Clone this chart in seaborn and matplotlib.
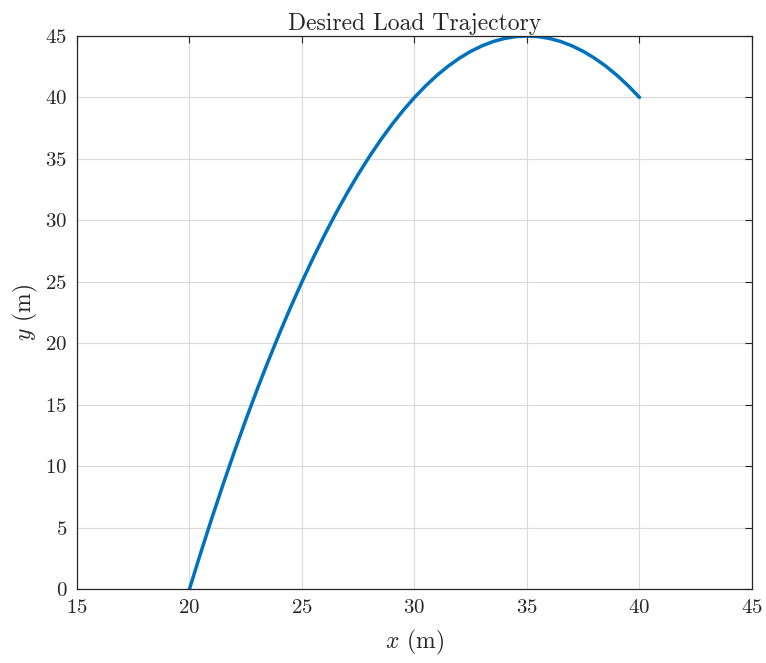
import matplotlib
matplotlib.use("Agg")
import matplotlib.pyplot as plt
import seaborn as sns
import pandas as pd

# values
x_m = [20, 20.5, 21, 21.5, 22, 22.5, 23, 23.5, 24, 24.5, 25, 25.5, 26, 26.5, 27, 27.5,
       28, 28.5, 29, 29.5, 30, 30.5, 31, 31.5, 32, 32.5, 33, 33.5, 34, 34.5, 35, 35.5,
       36, 36.5, 37, 37.5, 38, 38.5, 39, 39.5, 40]
y_m = [0.0, 2.95, 5.8, 8.55, 11.2, 13.75, 16.2, 18.55, 20.8, 22.95, 25.0, 26.95,
       28.8, 30.55, 32.2, 33.75, 35.2, 36.55, 37.8, 38.95, 40.0, 40.95, 41.8, 42.55,
       43.2, 43.75, 44.2, 44.55, 44.8, 44.95, 45.0, 44.95, 44.8, 44.55, 44.2, 43.75,
       43.2, 42.55, 41.8, 40.95, 40.0]
x_ticks = [15, 20, 25, 30, 35, 40, 45]
y_ticks = [0, 5, 10, 15, 20, 25, 30, 35, 40, 45]

df = pd.DataFrame({"x": x_m, "y": y_m})

sns.set_style("white")
plt.rcParams["font.family"] = ["cmr10", "DejaVu Serif"]
plt.rcParams["mathtext.fontset"] = "cm"
plt.rcParams["axes.formatter.use_mathtext"] = True

fig = plt.figure(figsize=(7.66, 6.63), dpi=100)
ax = fig.add_axes([0.1005, 0.1116, 0.8812, 0.8341])

sns.lineplot(data=df, x="x", y="y", ax=ax, color="#0072BD", linewidth=2.5, sort=False)

ax.set_xlim(15, 45)
ax.set_ylim(0, 45)
ax.set_xticks(x_ticks)
ax.set_yticks(y_ticks)
ax.grid(True, color="#d9d9d9", linewidth=0.8)
ax.set_axisbelow(True)
for s in ax.spines.values():
    s.set_visible(True)
    s.set_color("#262626")
    s.set_linewidth(0.9)
ax.tick_params(direction="in", length=5, width=0.8, colors="#262626",
               labelsize=15, top=True, right=True, pad=7)

ax.set_title("Desired Load Trajectory", fontsize=17, pad=4)
ax.set_xlabel("$x$ (m)", fontsize=17, labelpad=8)
ax.set_ylabel("$y$ (m)", fontsize=17, labelpad=4)

fig.savefig("out.png", dpi=100)
